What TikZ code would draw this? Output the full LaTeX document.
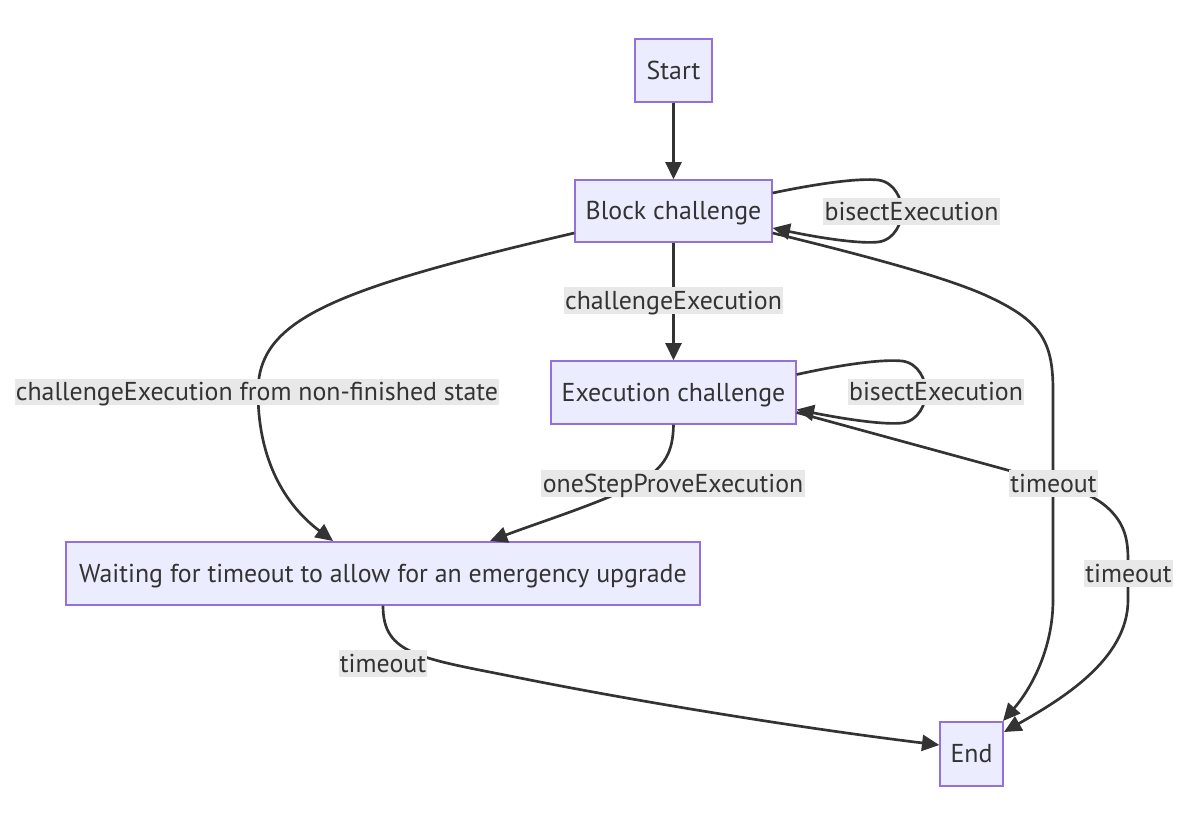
\documentclass[tikz,border=0pt]{standalone}
\usepackage{fontspec}
\setmainfont{PT Sans}
\usetikzlibrary{arrows.meta,calc}
\definecolor{nodefill}{HTML}{ECECFF}
\definecolor{nodeborder}{HTML}{9370DB}
\definecolor{edgecol}{HTML}{333333}
\definecolor{lblbg}{HTML}{E8E8E8}
\definecolor{txtcol}{HTML}{333333}
\begin{document}
\begin{tikzpicture}[x=0.75pt,y=-0.75pt,
  state/.style={draw=nodeborder, fill=nodefill, line width=1pt, inner sep=0pt,
    text=txtcol, font=\fontsize{19.4}{22}\selectfont, text height=15pt, text depth=2pt},
  lbl/.style={fill=lblbg, text=txtcol, inner xsep=1pt, inner ysep=0pt,
    minimum height=20pt, font=\fontsize{19.4}{22}\selectfont, text height=15pt, text depth=2pt},
  edge/.style={draw=edgecol, line width=2pt, -{Triangle[length=13pt,width=12pt]}},
]
\useasboundingbox (0,0) rectangle (1200,815);
\fill[white] (0,0) rectangle (1200,815);

% states
\node[state, minimum width=57.75pt, minimum height=47.25pt] (start) at (673.5,70.5) {Start};
\node[state, minimum width=147.75pt, minimum height=46.5pt] (blk) at (673.5,211) {Block challenge};
\node[state, minimum width=183.75pt, minimum height=47.25pt] (exe) at (673.5,392.5) {Execution challenge};
\node[state, minimum width=475.5pt, minimum height=47.25pt] (wait) at (383,573.5) {Waiting for timeout to allow for an emergency upgrade};
\node[state, minimum width=47.25pt, minimum height=48pt] (end) at (971.5,754) {End};

% connectors
\draw[edge] (start) -- (blk);
% Block self loop
\draw[edge] ($(blk.east)+(0,-18)$) .. controls (820,183) and (860,178) .. (878,180)
  .. controls (895,182) and (902,200) .. (902,211)
  .. controls (902,222) and (895,240) .. (878,242)
  .. controls (860,244) and (820,238) .. ($(blk.east)+(0,17)$);
% Exec self loop
\draw[edge] ($(exe.east)+(0,-18)$) .. controls (844,364) and (884,359) .. (902,361)
  .. controls (919,363) and (926,381) .. (926,392)
  .. controls (926,403) and (919,421) .. (902,423)
  .. controls (884,425) and (844,419) .. ($(exe.east)+(0,17)$);
% Block -> Exec
\draw[edge] (blk) -- (exe);
% Block -> Waiting
\coordinate (bw) at (333,541);
\draw[edge] ($(blk.west)+(0,22)$) .. controls (330,290) and (258,320) .. (258,392)
  .. controls (258,460) and (285,505) .. (bw);
% Exec -> Waiting
\coordinate (ew) at (490,541);
\draw[edge] (exe.south) .. controls (673,452) and (665,467) .. (640,482)
  .. controls (610,500) and (540,522) .. (ew);
% Waiting -> End
\draw[edge] (wait.south) .. controls (383,655) and (420,658) .. (520,678)
  .. controls (640,702) and (800,728) .. (end.west |- 0,745);
% Block -> End
\coordinate (be) at (1003,721);
\draw[edge] ($(blk.east)+(0,22)$) .. controls (850,252) and (940,275) .. (985,295)
  .. controls (1040,320) and (1053,340) .. (1053,390)
  -- (1053,600) .. controls (1053,650) and (1030,690) .. (be);
% Exec -> End
\coordinate (ee) at (1004,732);
\draw[edge] ($(exe.east)+(0,20)$) -- (1000,468) .. controls (1060,485) and (1090,490) .. (1110,510)
  .. controls (1125,525) and (1128,540) .. (1128,560) -- (1128,600)
  .. controls (1128,660) and (1060,700) .. (ee);

% labels
\node[lbl] (l1) at (911.5,211.5) {bisectExecution};
\node[lbl] (l2) at (673.5,300.5) {challengeExecution};
\node[lbl] (l3) at (936,392) {bisectExecution};
\node[lbl] (l4) at (257,392) {challengeExecution from non-finished state};
\node[lbl] (l5) at (673,483.5) {oneStepProveExecution};
\node[lbl] (l6) at (383,663.5) {timeout};
\node[lbl] (l7) at (1053.5,483.5) {timeout};
\node[lbl] (l8) at (1128.5,573.5) {timeout};
\end{tikzpicture}
\end{document}
